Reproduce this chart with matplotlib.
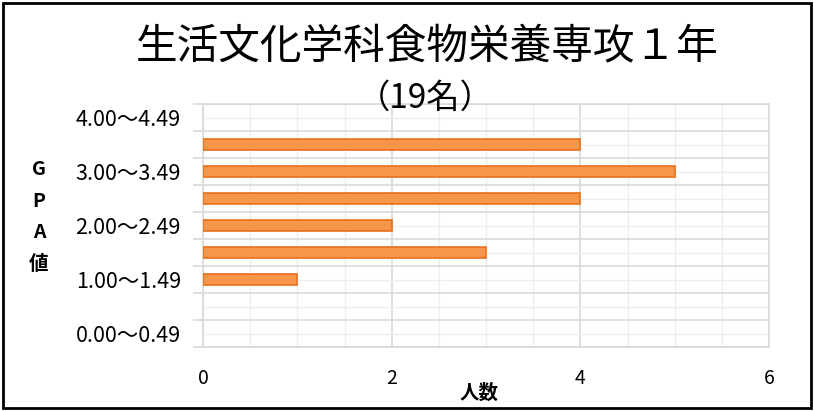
import matplotlib
matplotlib.use("Agg")
import matplotlib.pyplot as plt
from matplotlib.patches import Rectangle
import numpy as np

plt.rcParams['font.family'] = ['Noto Sans CJK JP', 'DejaVu Sans']

categories = ["0.00～0.49", "0.50～0.99", "1.00～1.49", "1.50～1.99", "2.00～2.49",
              "2.50～2.99", "3.00～3.49", "3.50～3.99", "4.00～4.49"]
counts = [0, 0, 1, 3, 2, 4, 5, 4, 0]
shown_labels = ["0.00～0.49", "1.00～1.49", "2.00～2.49", "3.00～3.49", "4.00～4.49"]
x_ticks = [0, 2, 4, 6]
title = "生活文化学科食物栄養専攻１年"
subtitle = "（19名）"
xlabel = "人数"
ylabel = "G\nP\nA\n値"

W, H = 814, 411
fig = plt.figure(figsize=(W / 100, H / 100), dpi=100)
ax = fig.add_axes([203 / W, 1 - 347 / H, (769 - 203) / W, (347 - 104) / H])

y = np.arange(len(categories))
lws = [1.2 if c > 0 else 0 for c in counts]
ax.barh(y, counts, height=0.4, color="#F5964A", edgecolor="#E8701A", linewidth=lws, zorder=3)

ax.set_xlim(0, 6)
ax.set_ylim(-0.5, len(categories) - 0.5)

ax.set_xticks(x_ticks)
ax.set_xticklabels([str(v) for v in x_ticks], fontsize=14)
ax.set_xticks(np.arange(0, 6.01, 0.5), minor=True)
ax.tick_params(axis="x", which="both", length=0, pad=15)

ax.set_yticks(np.arange(-0.5, len(categories), 1.0))
ax.set_yticklabels([])
ax.set_yticks(y, [c if c in shown_labels else "" for c in categories], minor=True)
ax.tick_params(axis="y", which="major", length=7, color="#d9d9d9", width=1.2)
ax.tick_params(axis="y", which="minor", length=0, pad=16, labelsize=15.5)

ax.grid(which="major", color="#d9d9d9", linewidth=1.2, zorder=0)
ax.grid(which="minor", color="#eeeeee", linewidth=1.0, zorder=0)
for s in ax.spines.values():
    s.set_color("#d9d9d9")
    s.set_linewidth(1.2)

fig.text(427 / W, 1 - 48 / H, title, ha="center", va="center", fontsize=30)
fig.text(425 / W, 1 - 98 / H, subtitle, ha="center", va="center", fontsize=24)
fig.text(479 / W, 1 - 393 / H, xlabel, ha="center", va="center", fontsize=14, fontweight="bold")
fig.text(39 / W, 1 - 217 / H, ylabel, ha="center", va="center", fontsize=14,
         fontweight="bold", linespacing=1.85, multialignment="center")

fig.patches.append(Rectangle((3 / W, 3 / H), (W - 6) / W, (H - 6) / H, transform=fig.transFigure,
                             fill=False, edgecolor="black", linewidth=2))

fig.savefig("out.png", dpi=100)
